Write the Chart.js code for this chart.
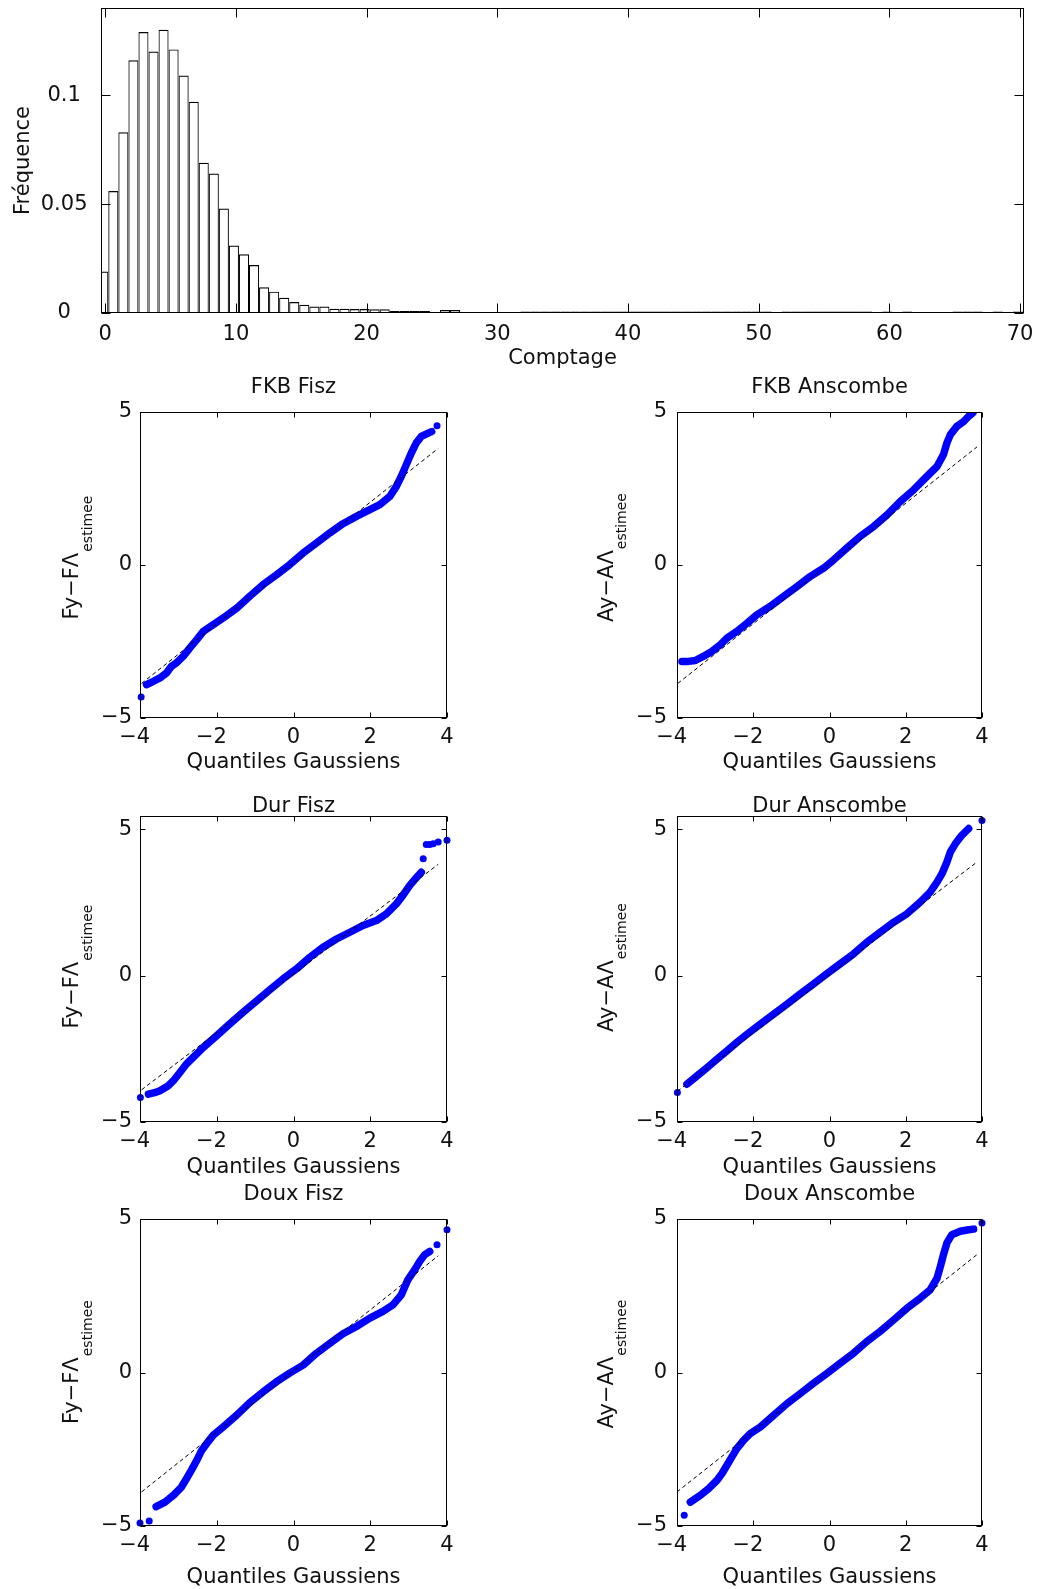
<!DOCTYPE html>
<html lang="fr">
<head>
<meta charset="UTF-8">
<title>Histogramme des comptages et QQ-plots</title>
<style>
  html, body { margin: 0; padding: 0; background: #fff; }
  body { width: 1040px; height: 1589px; position: relative; overflow: hidden; }
  canvas { position: absolute; }
</style>
</head>
<body>
<canvas id="hist"></canvas>
<canvas id="qqFkbFisz"></canvas>
<canvas id="qqFkbAnscombe"></canvas>
<canvas id="qqDurFisz"></canvas>
<canvas id="qqDurAnscombe"></canvas>
<canvas id="qqDouxFisz"></canvas>
<canvas id="qqDouxAnscombe"></canvas>
<script src="https://cdn.jsdelivr.net/npm/chart.js"></script>
<script>
// ---- histogram data ----
const binStart = -0.147;   // centre of the first bin
const binWidth = 0.769;
const histValues = [
  0.019, 0.056, 0.083, 0.116, 0.129, 0.120, 0.130, 0.121, 0.109, 0.097,
  0.069, 0.064, 0.048, 0.031, 0.027, 0.022, 0.0118, 0.0098, 0.0070, 0.0050,
  0.0038, 0.0030, 0.0030, 0.0019, 0.0019, 0.0018, 0.0018, 0.0017, 0.0017, 0.0009,
  0.0009, 0.0009, 0.0009, 0.0004, 0.0014, 0.0014, 0.0005, 0.0005, 0.0005, 0.0005,
  0.0005, 0.0005, 0.0007, 0.0007, 0.0007, 0.0007, 0.0007, 0.0007, 0.0007, 0.0007,
  0.0007, 0.0007, 0.0007, 0.0007, 0.0007, 0.0007, 0.0007, 0.0007, 0.0007, 0.0007,
  0.0007, 0.0007, 0.0007, 0.0007, 0.0007, 0.0007, 0.0007, 0, 0.0007, 0.0007,
  0.0007, 0.0007, 0.0007, 0.0007, 0.0007, 0.0007, 0.0007, 0, 0.0007, 0,
  0.0007, 0, 0, 0, 0, 0.0007, 0.0007, 0.0007, 0, 0.0007,
  0, 0.0007
];
const binCenters = histValues.map((_, i) => +(binStart + i * binWidth).toFixed(3));
const histXTicks = [0, 10, 20, 30, 40, 50, 60, 70];
const histYTicks = [0, 0.05, 0.1];

// ---- QQ plots: [gaussian quantile, residual] ----
const fkbFiszBand = [
  [-3.83,-3.91],[-3.65,-3.80],[-3.48,-3.69],[-3.31,-3.53],[-3.18,-3.31],[-3.05,-3.20],
  [-2.87,-2.98],[-2.70,-2.71],[-2.52,-2.44],[-2.35,-2.17],[-2.09,-1.95],[-1.83,-1.73],
  [-1.48,-1.41],[-1.14,-1.02],[-0.79,-0.64],[-0.44,-0.32],[-0.10,0.01],[0.25,0.39],
  [0.60,0.72],[0.95,1.05],[1.29,1.35],[1.64,1.59],[1.99,1.81],[2.25,1.97],[2.51,2.24],
  [2.68,2.57],[2.81,2.90],[2.94,3.28],[3.07,3.66],[3.20,3.99],[3.33,4.20],[3.51,4.31],[3.60,4.36]
];
const fkbFiszOut = [[-3.97,-4.31],[3.74,4.55]];
const fkbFiszRef = [[-3.96,-3.87],[3.77,3.81]];

const fkbAnscombeBand = [
  [-3.87,-3.15],[-3.70,-3.15],[-3.52,-3.12],[-3.30,-2.98],[-3.08,-2.82],[-2.86,-2.60],
  [-2.69,-2.39],[-2.43,-2.17],[-2.16,-1.90],[-1.90,-1.62],[-1.55,-1.35],[-1.20,-1.02],
  [-0.85,-0.70],[-0.50,-0.37],[-0.15,-0.10],[0.11,0.17],[0.46,0.56],[0.81,0.94],
  [1.16,1.26],[1.51,1.64],[1.86,2.08],[2.21,2.46],[2.56,2.90],[2.82,3.22],[2.99,3.61],
  [3.08,3.99],[3.17,4.26],[3.34,4.53],[3.52,4.69],[3.65,4.86],[3.76,4.97]
];
const fkbAnscombeOut = [];
const fkbAnscombeRef = [[-3.98,-3.87],[3.87,3.86]];

const durFiszBand = [
  [-3.78,-4.05],[-3.62,-4.00],[-3.48,-3.93],[-3.26,-3.76],[-3.13,-3.59],[-2.96,-3.31],
  [-2.79,-3.02],[-2.61,-2.79],[-2.35,-2.45],[-2.00,-2.05],[-1.66,-1.65],[-1.31,-1.25],
  [-0.96,-0.86],[-0.62,-0.49],[-0.27,-0.11],[0.08,0.23],[0.43,0.63],[0.77,0.97],
  [1.12,1.25],[1.47,1.48],[1.81,1.71],[2.16,1.88],[2.42,2.11],[2.68,2.45],[2.85,2.74],
  [3.03,3.08],[3.20,3.34],[3.33,3.53]
];
const durFiszOut = [[-3.99,-4.16],[3.38,3.99],[3.46,4.48],[3.55,4.48],[3.64,4.50],[3.77,4.56],[4.00,4.62]];
const durFiszRef = [[-3.96,-3.90],[3.77,3.80]];

const durAnscombeBand = [
  [-3.74,-3.71],[-3.47,-3.42],[-3.21,-3.14],[-2.95,-2.85],[-2.69,-2.57],[-2.43,-2.28],
  [-2.16,-2.00],[-1.81,-1.65],[-1.46,-1.31],[-1.11,-0.97],[-0.77,-0.63],[-0.42,-0.29],
  [-0.07,0.06],[0.28,0.40],[0.63,0.74],[0.98,1.14],[1.33,1.48],[1.68,1.82],[2.03,2.11],
  [2.38,2.51],[2.64,2.85],[2.82,3.19],[2.95,3.48],[3.08,3.88],[3.17,4.22],[3.30,4.50],
  [3.47,4.79],[3.65,5.02]
];
const durAnscombeOut = [[-3.99,-3.99],[4.00,5.30]];
const durAnscombeRef = [[-3.99,-3.95],[3.87,3.88]];

const douxFiszBand = [
  [-3.58,-4.37],[-3.35,-4.22],[-3.13,-4.00],[-2.92,-3.73],[-2.79,-3.46],[-2.66,-3.18],
  [-2.52,-2.86],[-2.39,-2.53],[-2.26,-2.31],[-2.09,-2.04],[-1.83,-1.77],[-1.48,-1.39],
  [-1.14,-0.98],[-0.79,-0.63],[-0.44,-0.30],[-0.10,-0.02],[0.25,0.24],[0.60,0.63],
  [0.95,0.95],[1.29,1.26],[1.64,1.50],[1.99,1.77],[2.33,1.99],[2.59,2.20],[2.81,2.53],
  [2.98,3.02],[3.16,3.35],[3.29,3.62],[3.42,3.84],[3.55,3.94]
];
const douxFiszOut = [[-4.00,-4.90],[-3.76,-4.84],[3.74,4.16],[4.00,4.65]];
const douxFiszRef = [[-3.96,-3.89],[3.77,3.80]];

const douxAnscombeBand = [
  [-3.65,-4.22],[-3.39,-4.00],[-3.17,-3.78],[-2.95,-3.51],[-2.82,-3.29],[-2.69,-3.02],
  [-2.56,-2.75],[-2.43,-2.48],[-2.25,-2.20],[-2.08,-1.99],[-1.81,-1.77],[-1.46,-1.39],
  [-1.11,-1.01],[-0.76,-0.68],[-0.42,-0.35],[-0.07,-0.03],[0.28,0.30],[0.63,0.63],
  [0.98,1.01],[1.33,1.34],[1.68,1.71],[2.03,2.09],[2.38,2.42],[2.64,2.69],[2.82,3.07],
  [2.91,3.46],[2.99,3.84],[3.08,4.22],[3.21,4.49],[3.43,4.60],[3.65,4.65],[3.78,4.67]
];
const douxAnscombeOut = [[-3.81,-4.65],[4.00,4.87]];
const douxAnscombeRef = [[-4.00,-3.89],[3.87,3.84]];

const qqXTicks = [-4, -2, 0, 2, 4];
const qqYTicks = [-5, 0, 5];

// ---- drawing ----
const FONT = 'DejaVu Sans';
const BLUE = '#0000ff';
Chart.defaults.font.family = FONT;
Chart.defaults.font.size = 21;
Chart.defaults.color = '#111';

function placeCanvas(id, left, top, width, height) {
  const cv = document.getElementById(id);
  cv.width = width;
  cv.height = height;
  cv.style.left = left + 'px';
  cv.style.top = top + 'px';
  return cv;
}

// force axis size, ignore label overflow so the plot box lands where we want it
function fixSize(size) {
  return function (scale) {
    if (scale.isHorizontal()) scale.height = size; else scale.width = size;
    scale.paddingLeft = scale.paddingRight = scale.paddingTop = scale.paddingBottom = 0;
  };
}

// matlab style box with inward ticks on all four sides
const framePlugin = {
  id: 'frame',
  afterDatasetsDraw(chart, args, opts) {
    const {ctx, chartArea: a, scales: {x, y}} = chart;
    const len = opts.tick || 5;
    const L = Math.round(a.left) + 0.5, R = Math.round(a.right) - 0.5;
    const T = Math.round(a.top) + 0.5, B = Math.round(a.bottom) - 0.5;
    ctx.save();
    ctx.strokeStyle = '#000';
    ctx.lineWidth = 1;
    ctx.beginPath();
    (opts.xTicks || []).forEach(v => {
      const px = Math.round(x.getPixelForValue(v)) + 0.5;
      ctx.moveTo(px, B); ctx.lineTo(px, B - len);
      ctx.moveTo(px, T); ctx.lineTo(px, T + len);
    });
    (opts.yTicks || []).forEach(v => {
      const py = Math.round(y.getPixelForValue(v)) + 0.5;
      ctx.moveTo(L, py); ctx.lineTo(L + len, py);
      ctx.moveTo(R, py); ctx.lineTo(R - len, py);
    });
    ctx.stroke();
    ctx.strokeRect(L, T, R - L, B - T);
    ctx.restore();
  }
};

// y label with a subscript: main text + lowered small text, rotated
const subLabelPlugin = {
  id: 'subLabel',
  afterDraw(chart, args, opts) {
    if (!opts.main) return;
    const {ctx, chartArea: a} = chart;
    ctx.save();
    ctx.fillStyle = '#111';
    ctx.font = '21px "' + FONT + '"';
    const wMain = ctx.measureText(opts.main).width;
    ctx.font = '14px "' + FONT + '"';
    const wSub = ctx.measureText(opts.sub).width;
    ctx.translate(opts.x, (a.top + a.bottom) / 2 + opts.shift);
    ctx.rotate(-Math.PI / 2);
    ctx.textAlign = 'left';
    ctx.textBaseline = 'alphabetic';
    const start = -(wMain + wSub) / 2;
    ctx.font = '21px "' + FONT + '"';
    ctx.fillText(opts.main, start, 0);
    ctx.font = '14px "' + FONT + '"';
    ctx.fillText(opts.sub, start + wMain + 1, opts.drop);
    ctx.restore();
  }
};

const minusX = v => v < 0 ? '\u2212' + (-v) + '\u2002' : String(v);
const minusY = v => v < 0 ? '\u2212' + (-v) : String(v);
const toXY = arr => arr.map(p => ({x: p[0], y: p[1]}));

// histogram
(function () {
  const cv = placeCanvas('hist', 0, 0, 1040, 380);
  new Chart(cv, {
    type: 'bar',
    data: {
      datasets: [{
        data: binCenters.map((c, i) => ({x: c, y: histValues[i]})),
        backgroundColor: 'rgba(0,0,0,0)',
        borderColor: '#000',
        borderWidth: {top: 1.2, left: 1, right: 1, bottom: 0},
        barPercentage: 1,
        categoryPercentage: 1,
        inflateAmount: 0
      }]
    },
    options: {
      responsive: false,
      animation: false,
      devicePixelRatio: 1,
      layout: {padding: {top: 8, right: 16, left: 0, bottom: 0}},
      plugins: {
        legend: {display: false},
        tooltip: {enabled: false},
        frame: {tick: 9, xTicks: histXTicks, yTicks: histYTicks}
      },
      scales: {
        x: {
          type: 'linear', min: -0.32, max: 70.3, offset: false,
          grid: {display: false, drawTicks: false}, border: {display: false},
          ticks: {stepSize: 10, includeBounds: false, padding: 9, maxRotation: 0, autoSkip: false,
                  callback: v => String(v)},
          title: {display: true, text: 'Comptage', padding: {top: 0, bottom: 8.4}},
          afterFit: fixSize(67)
        },
        y: {
          min: 0, max: 0.14,
          grid: {display: false, drawTicks: false}, border: {display: false},
          ticks: {stepSize: 0.05, includeBounds: false, padding: 13.5, crossAlign: 'center',
                  callback: v => String(+v.toFixed(2))},
          title: {display: true, text: 'Fréquence', padding: {top: 10.5, bottom: 0}},
          afterFit: fixSize(101)
        }
      }
    },
    plugins: [framePlugin]
  });
})();

// QQ panels
const cols = [
  {plotL: 140, plotR: 447, axisW: 100, tickPad: 8, labelX: 78, drop: 14},
  {plotL: 677, plotR: 982, axisW: 107, tickPad: 10, labelX: 613, drop: 13}
];
const rows = [
  {plotT: 412, plotB: 718, canvasB: 780, yMax: 5, titlePad: [12.9, 11.9], xTitlePad: 4.4, xTickPad: 7},
  {plotT: 816, plotB: 1122, canvasB: 1185, yMax: 5.45, titlePad: [28.4, -3.6], xTitlePad: 4.4, xTickPad: 7.4},
  {plotT: 1219, plotB: 1526, canvasB: 1589, yMax: 5, titlePad: [13.4, 11.4], xTitlePad: -1.6, xTickPad: 7.4}
];

function makeQQ(id, row, col, title, ylabMain, shift, band, out, ref) {
  const r = rows[row], c = cols[col];
  const left = c.plotL - c.axisW, top = r.plotT - 50;
  const cv = placeCanvas(id, left, top, c.plotR + 20 - left, r.canvasB - top);
  new Chart(cv, {
    type: 'scatter',
    data: {
      datasets: [
        {data: toXY(ref), showLine: true, borderColor: '#000', borderWidth: 1,
         borderDash: [4, 3], pointRadius: 0},
        {data: toXY(band), showLine: true, borderColor: BLUE, borderWidth: 7.5,
         borderJoinStyle: 'round', borderCapStyle: 'round', pointRadius: 0},
        {data: toXY(out), pointRadius: 3.5, pointStyle: 'circle', backgroundColor: BLUE,
         borderWidth: 0, clip: false}
      ]
    },
    options: {
      responsive: false,
      animation: false,
      devicePixelRatio: 1,
      layout: {padding: {top: 0, right: 20, left: 0, bottom: 0}},
      plugins: {
        legend: {display: false},
        tooltip: {enabled: false},
        title: {display: true, text: title, fullSize: false, color: '#111',
                font: {size: 21, weight: 'normal'},
                padding: {top: r.titlePad[0], bottom: r.titlePad[1]}},
        frame: {tick: 5, xTicks: qqXTicks, yTicks: qqYTicks},
        subLabel: {main: ylabMain, sub: 'estimee', x: c.labelX - left, drop: c.drop, shift: shift}
      },
      scales: {
        x: {
          type: 'linear', min: -4, max: 4,
          grid: {display: false, drawTicks: false}, border: {display: false},
          ticks: {stepSize: 2, includeBounds: false, padding: r.xTickPad, maxRotation: 0,
                  autoSkip: false, callback: minusX},
          title: {display: true, text: 'Quantiles Gaussiens', padding: {top: 0, bottom: r.xTitlePad}},
          afterFit: fixSize(r.canvasB - r.plotB)
        },
        y: {
          min: -5, max: r.yMax,
          grid: {display: false, drawTicks: false}, border: {display: false},
          ticks: {stepSize: 5, includeBounds: false, padding: c.tickPad, callback: minusY},
          afterFit: fixSize(c.axisW)
        }
      }
    },
    plugins: [framePlugin, subLabelPlugin]
  });
}

makeQQ('qqFkbFisz', 0, 0, 'FKB Fisz', 'Fy\u2212F\u039B', -7, fkbFiszBand, fkbFiszOut, fkbFiszRef);
makeQQ('qqFkbAnscombe', 0, 1, 'FKB Anscombe', 'Ay\u2212A\u039B', -7, fkbAnscombeBand, fkbAnscombeOut, fkbAnscombeRef);
makeQQ('qqDurFisz', 1, 0, 'Dur Fisz', 'Fy\u2212F\u039B', -2, durFiszBand, durFiszOut, durFiszRef);
makeQQ('qqDurAnscombe', 1, 1, 'Dur Anscombe', 'Ay\u2212A\u039B', -1, durAnscombeBand, durAnscombeOut, durAnscombeRef);
makeQQ('qqDouxFisz', 2, 0, 'Doux Fisz', 'Fy\u2212F\u039B', -10, douxFiszBand, douxFiszOut, douxFiszRef);
makeQQ('qqDouxAnscombe', 2, 1, 'Doux Anscombe', 'Ay\u2212A\u039B', -8, douxAnscombeBand, douxAnscombeOut, douxAnscombeRef);
</script>
</body>
</html>
